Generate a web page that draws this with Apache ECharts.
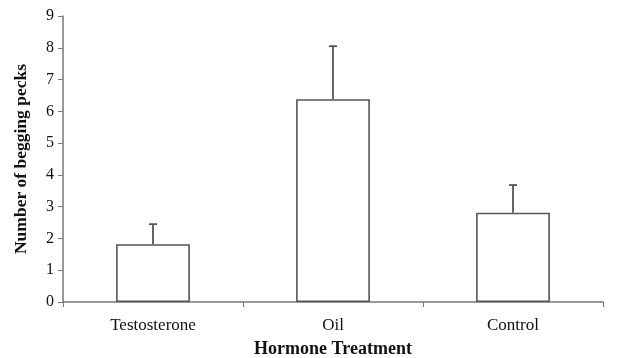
<!DOCTYPE html>
<html><head><meta charset="utf-8">
<script src="https://cdn.jsdelivr.net/npm/echarts@6/dist/echarts.min.js"></script>
<style>html,body{margin:0;padding:0;background:#fff}#c{width:627px;height:358px}</style>
</head><body><div id="c"></div>
<script>
var categories = ['Testosterone', 'Oil', 'Control'];
var means = [1.82, 6.38, 2.81];
var errorTops = [2.45, 8.05, 3.68];
var yTicks = [0, 1, 2, 3, 4, 5, 6, 7, 8, 9];

var chart = echarts.init(document.getElementById('c'), null, {renderer: 'canvas'});
var font = '"Liberation Serif", "Times New Roman", serif';
chart.setOption({
  animation: false,
  backgroundColor: '#fff',
  grid: {left: 63, right: 24, top: 16, bottom: 56, containLabel: false, outerBoundsMode: 'none'},
  xAxis: {
    type: 'category',
    data: categories,
    axisLine: {lineStyle: {color: '#777', width: 1.5}},
    axisTick: {show: true, alignWithLabel: false, length: 5, lineStyle: {color: '#777'}},
    axisLabel: {color: '#111', fontFamily: font, fontSize: 17, margin: 15},
    name: 'Hormone Treatment',
    nameLocation: 'middle',
    nameGap: 38,
    nameTextStyle: {color: '#111', fontFamily: font, fontSize: 18, fontWeight: 'bold'}
  },
  yAxis: {
    type: 'value',
    min: 0, max: 9, interval: 1,
    splitLine: {show: false},
    axisLine: {show: true, lineStyle: {color: '#777', width: 1.5}},
    axisTick: {show: true, length: 5, lineStyle: {color: '#777'}},
    axisLabel: {color: '#111', fontFamily: font, fontSize: 16, margin: 9,
      formatter: function (v) { return yTicks.indexOf(v) >= 0 ? String(v) : ''; }},
    name: 'Number of begging pecks',
    nameLocation: 'middle',
    nameGap: 33,
    nameTextStyle: {color: '#111', fontFamily: font, fontSize: 17.5, fontWeight: 'bold'}
  },
  series: [
    {
      type: 'bar',
      data: means,
      barWidth: '41%',
      itemStyle: {color: '#fff', borderColor: '#555', borderWidth: 1.6},
      z: 2
    },
    {
      type: 'custom',
      data: categories.map(function (c, i) { return [i, means[i], errorTops[i]]; }),
      renderItem: function (params, api) {
        var x = api.value(0);
        var p0 = api.coord([x, api.value(1)]);
        var p1 = api.coord([x, api.value(2)]);
        var style = {stroke: '#555', lineWidth: 1.8, fill: null};
        return {
          type: 'group',
          children: [
            {type: 'line', shape: {x1: p0[0], y1: p0[1], x2: p1[0], y2: p1[1]}, style: style},
            {type: 'line', shape: {x1: p1[0] - 4, y1: p1[1], x2: p1[0] + 4, y2: p1[1]}, style: style}
          ]
        };
      },
      z: 3
    }
  ]
});
</script>
</body></html>
